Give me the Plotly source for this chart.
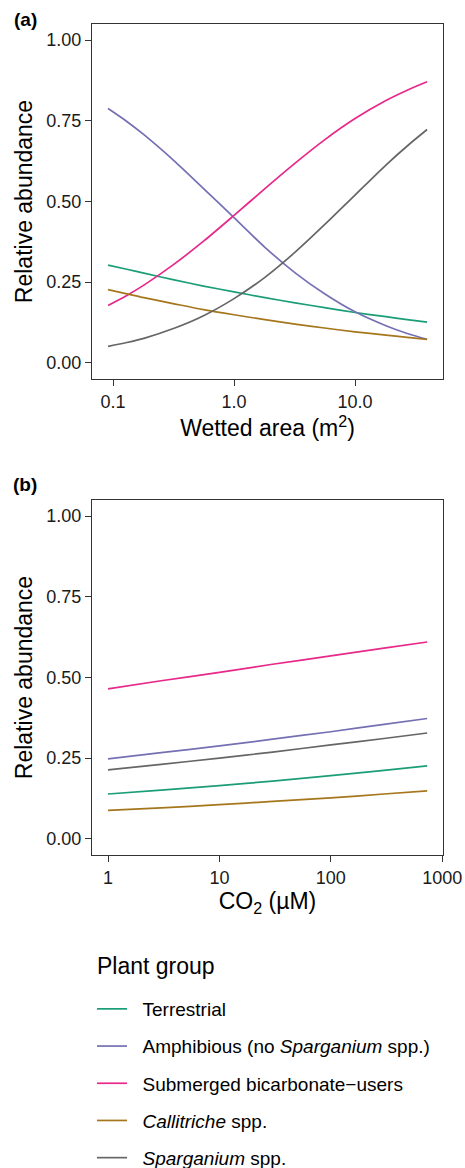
import plotly.graph_objects as go

W, H = 465, 1168

# ---- data ----
groups = [
    "Terrestrial",
    "Amphibious (no <i>Sparganium</i> spp.)",
    "Submerged bicarbonate\u2212users",
    "<i>Callitriche</i> spp.",
    "<i>Sparganium</i> spp.",
]
colors = ["#1B9E77", "#7570B3", "#E7298A", "#A6761D", "#666666"]

# panel (a): wetted area (m2)
area = [0.091, 0.13, 0.18, 0.32, 0.56, 1.0, 1.8, 3.2, 5.6, 10, 18, 27, 39.4]
a_terrestrial = [0.303, 0.290, 0.278, 0.257, 0.238, 0.220, 0.202, 0.186, 0.171, 0.156, 0.143, 0.134, 0.126]
a_amphibious = [0.788, 0.748, 0.707, 0.626, 0.540, 0.450, 0.358, 0.279, 0.214, 0.158, 0.115, 0.091, 0.073]
a_submerged = [0.178, 0.209, 0.241, 0.306, 0.377, 0.457, 0.540, 0.619, 0.691, 0.757, 0.813, 0.845, 0.871]
a_callitriche = [0.227, 0.214, 0.202, 0.183, 0.165, 0.149, 0.134, 0.120, 0.108, 0.096, 0.086, 0.079, 0.073]
a_sparganium = [0.051, 0.063, 0.076, 0.107, 0.146, 0.199, 0.265, 0.343, 0.428, 0.520, 0.613, 0.672, 0.723]

# panel (b): CO2 (uM)
co2 = [1, 3, 10, 30, 100, 300, 733]
b_terrestrial = [0.139, 0.151, 0.165, 0.179, 0.196, 0.212, 0.226]
b_amphibious = [0.248, 0.267, 0.288, 0.309, 0.332, 0.355, 0.373]
b_submerged = [0.465, 0.490, 0.516, 0.541, 0.567, 0.591, 0.610]
b_callitriche = [0.088, 0.096, 0.106, 0.116, 0.127, 0.139, 0.149]
b_sparganium = [0.214, 0.231, 0.250, 0.269, 0.291, 0.311, 0.328]

y_ticks = [0, 0.25, 0.5, 0.75, 1.0]
y_ticktext = ["0.00", "0.25", "0.50", "0.75", "1.00"]
xa_ticks = [0.1, 1, 10]
xa_ticktext = ["0.1", "1.0", "10.0"]
xb_ticks = [1, 10, 100, 1000]
xb_ticktext = ["1", "10", "100", "1000"]

a_series = [a_terrestrial, a_amphibious, a_submerged, a_callitriche, a_sparganium]
b_series = [b_terrestrial, b_amphibious, b_submerged, b_callitriche, b_sparganium]

FONT = "Liberation Sans, Arial, Helvetica, sans-serif"
LINE_W = 1.7
PAD = "\u00a0\u00a0"  # gap between legend key and label

fig = go.Figure()
for name, col, ya in zip(groups, colors, a_series):
    fig.add_trace(go.Scatter(x=area, y=ya, mode="lines", name=PAD + name,
                             line=dict(color=col, width=LINE_W, shape="spline", smoothing=0.8),
                             legendgroup=name, showlegend=True,
                             xaxis="x", yaxis="y"))
for name, col, yb in zip(groups, colors, b_series):
    fig.add_trace(go.Scatter(x=co2, y=yb, mode="lines", name=PAD + name,
                             line=dict(color=col, width=LINE_W, shape="spline", smoothing=0.8),
                             legendgroup=name, showlegend=False,
                             xaxis="x2", yaxis="y2"))

xdom = [92 / W, 443 / W]
ya_dom = [1 - 379 / H, 1 - 24 / H]
yb_dom = [1 - 855 / H, 1 - 500 / H]

axis_common = dict(showline=True, mirror=True, linecolor="#333333", linewidth=1.2,
                   ticks="outside", ticklen=6, tickwidth=1.1, tickcolor="#333333",
                   showgrid=False, zeroline=False, automargin=True,
                   tickfont=dict(family=FONT, size=18, color="#1a1a1a"))
title_font = dict(family=FONT, size=23, color="black")

fig.update_layout(
    width=W, height=H, autosize=False,
    margin=dict(l=0, r=0, t=0, b=0, autoexpand=False),
    paper_bgcolor="white", plot_bgcolor="white",
    font=dict(family=FONT, color="black"),
    xaxis=dict(domain=xdom, anchor="y", type="log", range=[-1.1736, 1.727],
               tickvals=xa_ticks, ticktext=xa_ticktext,
               title=dict(text="Wetted area (m<sup>2</sup>)", font=title_font, standoff=8),
               **axis_common),
    yaxis=dict(domain=ya_dom, anchor="x", range=[-0.05, 1.05],
               tickvals=y_ticks, ticktext=y_ticktext,
               title=dict(text="Relative abundance", font=title_font, standoff=7),
               **axis_common),
    xaxis2=dict(domain=xdom, anchor="y2", type="log", range=[-0.1436, 3.007],
                tickvals=xb_ticks, ticktext=xb_ticktext,
                title=dict(text="CO<sub>2</sub> (\u00b5M)", font=title_font, standoff=6),
                **axis_common),
    yaxis2=dict(domain=yb_dom, anchor="x2", range=[-0.05, 1.05],
                tickvals=y_ticks, ticktext=y_ticktext,
                title=dict(text="Relative abundance", font=title_font, standoff=7),
                **axis_common),
    legend=dict(x=92 / W, xanchor="left", y=1 - 990 / H, yanchor="top",
                font=dict(family=FONT, size=19, color="black"),
                traceorder="grouped", tracegroupgap=9.5,
                bgcolor="rgba(0,0,0,0)"),
    annotations=[
        dict(text="<b>(a)</b>", x=25 / W, y=1 - 20 / H, xref="paper", yref="paper",
             xanchor="center", yanchor="middle", showarrow=False,
             font=dict(family=FONT, size=19, color="black")),
        dict(text="<b>(b)</b>", x=25 / W, y=1 - 485 / H, xref="paper", yref="paper",
             xanchor="center", yanchor="middle", showarrow=False,
             font=dict(family=FONT, size=19, color="black")),
        dict(text="Plant group", x=95 / W, y=1 - 966 / H, xref="paper", yref="paper",
             xanchor="left", yanchor="middle", showarrow=False,
             font=dict(family=FONT, size=23, color="black")),
    ],
)

fig.write_html("out.html", config={"responsive": False})
